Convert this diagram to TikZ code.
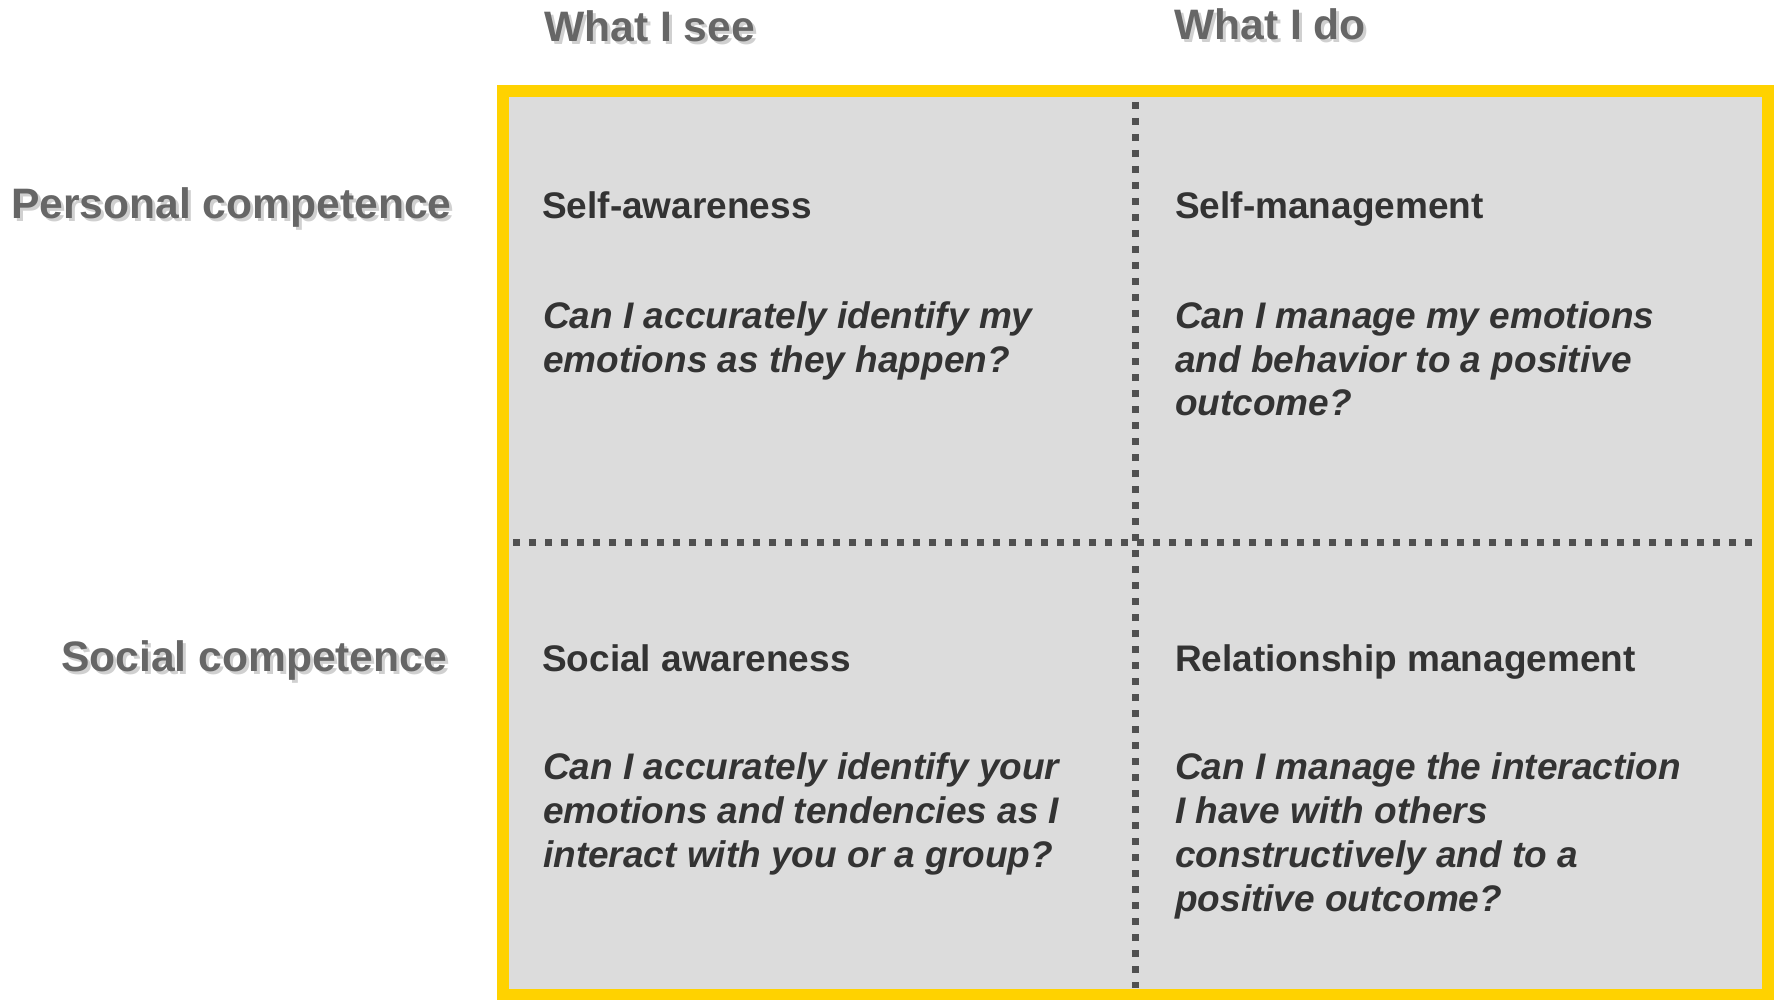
\documentclass[tikz,border=0pt]{standalone}
\usepackage{fontspec}
\setmainfont{Liberation Sans}
\definecolor{boxyellow}{HTML}{FFD200}
\definecolor{boxgray}{HTML}{DCDCDC}
\definecolor{dotgray}{HTML}{505050}
\definecolor{headgray}{HTML}{666666}
\definecolor{shadowgray}{HTML}{D0D0D0}
\definecolor{textdark}{HTML}{333333}
\tikzset{
  headtext/.style={anchor=base west, inner sep=0pt, text=headgray, font=\fontsize{42.6}{50}\selectfont\bfseries},
  headshadow/.style={anchor=base west, inner sep=0pt, text=shadowgray, font=\fontsize{42.6}{50}\selectfont\bfseries},
  celltitle/.style={anchor=base west, inner sep=0pt, text=textdark, font=\fontsize{37}{44}\selectfont\bfseries},
  cellq/.style={anchor=base west, inner sep=0pt, text=textdark, font=\fontsize{37}{44}\selectfont\bfseries\itshape},
  divider/.style={draw=dotgray, line width=7pt, dash pattern=on 7pt off 9pt},
  frame/.style={draw=boxyellow, line width=12pt, fill=boxgray}
}
\newcommand{\qlines}[1]{\begin{tabular}[t]{@{}l@{}}#1\end{tabular}}
\begin{document}
\begin{tikzpicture}[x=1pt,y=-1pt]
\useasboundingbox (0,0) rectangle (1775,1000);
% frame
\path[frame] (502.5,91) rectangle (1768,995);
% dividers
\coordinate (vtop) at (1135,102);
\coordinate (vbot) at (1135,988);
\coordinate (hl) at (513,542);
\coordinate (hr) at (1757,542);
\draw[divider] (hl) -- (hr);
\draw[divider] (vtop) -- (vbot);
% column headers with shadow
\node[headshadow] (seeS) at (547,45) {What I see};
\node[headtext] (see) at (544,42) {What I see};
\node[headshadow] (doS) at (1177,43) {What I do};
\node[headtext] (do) at (1174,40) {What I do};
% row headers with shadow
\node[headshadow] (persS) at (14,222) {Personal competence};
\node[headtext] (pers) at (11,219) {Personal competence};
\node[headshadow] (socS) at (64,674) {Social competence};
\node[headtext] (soc) at (61,671) {Social competence};
% cell titles
\node[celltitle] (t1) at (542,219) {Self-awareness};
\node[celltitle] (t2) at (1175,219) {Self-management};
\node[celltitle] (t3) at (542,671) {Social awareness};
\node[celltitle] (t4) at (1175,671) {Relationship management};
% questions
\node[cellq] (q1) at (543,328) {\qlines{Can I accurately identify my\\emotions as they happen?}};
\node[cellq] (q2) at (1175,328) {\qlines{Can I manage my emotions\\and behavior to a positive\\outcome?}};
\node[cellq] (q3) at (543,779) {\qlines{Can I accurately identify your\\emotions and tendencies as I\\interact with you or a group?}};
\node[cellq] (q4) at (1175,779) {\qlines{Can I manage the interaction\\I have with others\\constructively and to a\\positive outcome?}};
\end{tikzpicture}
\end{document}
